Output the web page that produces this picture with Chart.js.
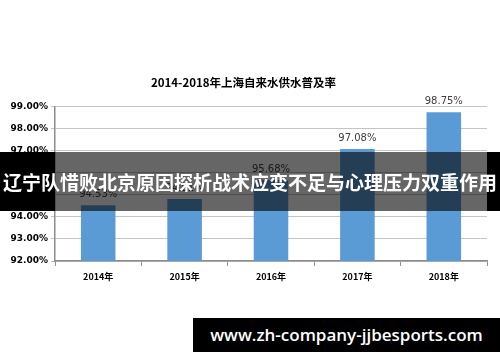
<!DOCTYPE html>
<html>
<head>
<meta charset="utf-8">
<script src="https://cdn.jsdelivr.net/npm/chart.js@4"></script>
<style>
    body { margin: 0; background: #fff; }
    .wrap { position: relative; width: 500px; height: 362px; overflow: hidden; }
    #chart { position: absolute; left: 0; top: 0; }
    .banner { position: absolute; left: 0; top: 152px; width: 500px; height: 59px; background: rgba(0,0,0,0.6); }
    .banner .side-l { position: absolute; left: 0; top: 0; width: 55px; height: 100%; background: #000; }
    .banner .side-r { position: absolute; right: 0; top: 0; width: 13px; height: 100%; background: #000; }
    .banner .txt { position: absolute; left: 3px; top: 0; line-height: 59px; color: #fff;
        font-family: "Noto Sans CJK SC", sans-serif; font-weight: bold; font-size: 20px; white-space: nowrap; }
    .mark { position: absolute; left: 193px; top: 318px; width: 307px; height: 34px; background: #000; color: #fff;
        font-family: "Open Sans", sans-serif; font-weight: 600; font-size: 17px; line-height: 34px; text-align: center; white-space: nowrap; }
</style>
</head>
<body>
<div class="wrap">
    <canvas id="chart" width="500" height="362"></canvas>
    <div class="banner">
        <div class="side-l"></div>
        <div class="side-r"></div>
        <div class="txt" id="bannerText">辽宁队惜败北京原因探析战术应变不足与心理压力双重作用</div>
    </div>
    <div class="mark">www.zh-company-jjbesports.com</div>
</div>
<script>
const years = ['2014年', '2015年', '2016年', '2017年', '2018年'];
const rates = [94.53, 94.81, 95.68, 97.08, 98.75];
const yMin = 92;
const yMax = 99;

// fit the banner headline into 494px
const bt = document.getElementById('bannerText');
const w = bt.getBoundingClientRect().width;
bt.style.fontSize = (20 * 494 / w).toFixed(2) + 'px';

// draws the percent over each bar
const valueLabels = {
    id: 'valueLabels',
    afterDatasetsDraw(chart) {
        const ctx = chart.ctx;
        const meta = chart.getDatasetMeta(0);
        ctx.save();
        ctx.font = '10px "DejaVu Sans", sans-serif';
        ctx.fillStyle = '#404040';
        ctx.textAlign = 'center';
        ctx.textBaseline = 'bottom';
        meta.data.forEach((bar, i) => {
            ctx.fillText(rates[i].toFixed(2) + '%', bar.x, bar.y - 6);
        });
        ctx.restore();
    }
};

new Chart(document.getElementById('chart').getContext('2d'), {
    type: 'bar',
    data: {
        labels: years,
        datasets: [{
            label: '普及率',
            data: rates,
            backgroundColor: '#5b9bd5',
            categoryPercentage: 1,
            barPercentage: 0.4
        }]
    },
    options: {
        responsive: false,
        animation: false,
        layout: { padding: { left: 0, right: 13, top: 0, bottom: 0 } },
        plugins: {
            legend: { display: false },
            tooltip: { enabled: false },
            title: {
                display: true,
                text: '2014-2018年上海自来水供水普及率',
                color: '#000',
                font: { size: 11.5, weight: 'bold', family: '"Noto Sans CJK SC", sans-serif' },
                padding: { top: 76, bottom: 17 }
            }
        },
        scales: {
            x: {
                afterFit: (s) => { s.height = 101; },
                grid: { offset: true, drawOnChartArea: false, drawTicks: true, tickLength: 5, color: '#8c8c8c' },
                border: { color: '#8c8c8c', width: 1.5 },
                ticks: {
                    color: '#000',
                    padding: 5,
                    font: { size: 9, weight: 'bold', family: '"Noto Sans CJK SC", sans-serif' }
                }
            },
            y: {
                min: yMin,
                max: yMax,
                afterFit: (s) => { s.width = 55; },
                grid: { color: '#c4c4c4', tickLength: 4, lineWidth: 1 },
                border: { color: '#8c8c8c', width: 1.5 },
                ticks: {
                    stepSize: 1,
                    color: '#000',
                    padding: 3,
                    font: { size: 9, weight: 'bold', family: '"DejaVu Sans", sans-serif' },
                    callback: (v) => v.toFixed(2) + '%'
                }
            }
        }
    },
    plugins: [valueLabels]
});
</script>
</body>
</html>
